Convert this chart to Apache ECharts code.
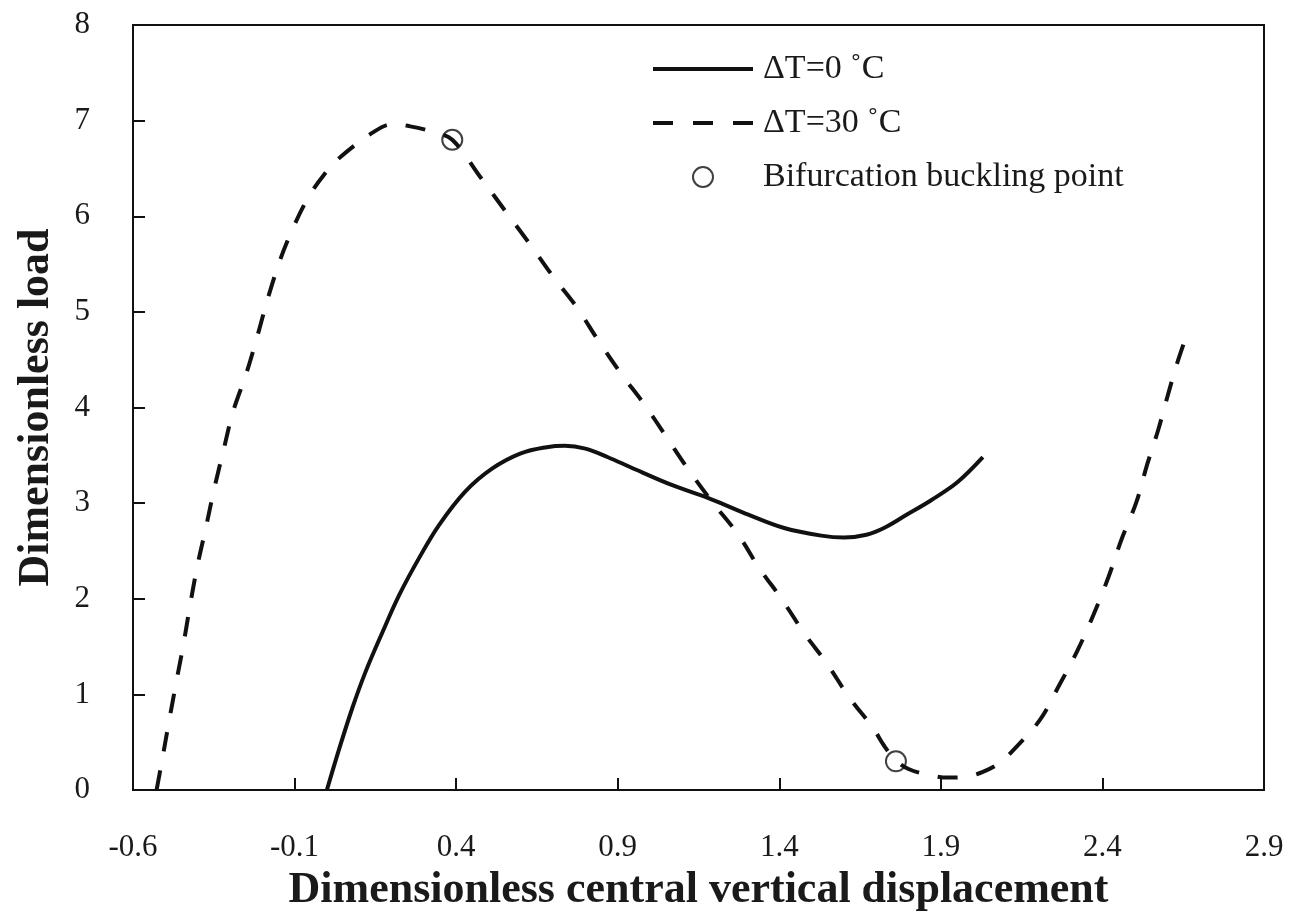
<!DOCTYPE html>
<html>
<head>
<meta charset="utf-8">
<title>Dimensionless load vs central vertical displacement</title>
<script src="https://cdn.jsdelivr.net/npm/echarts@6/dist/echarts.min.js"></script>
<style>
  html, body { margin: 0; padding: 0; background: #fff; }
  #chart { width: 1289px; height: 920px; }
</style>
</head>
<body>
<div id="chart"></div>
<script>
// Load–deflection path at ΔT = 0 °C
const dt0X = [0.0, 0.039, 0.079, 0.119, 0.172, 0.224, 0.286, 0.347, 0.428, 0.511, 0.600, 0.680, 0.736, 0.800, 0.870, 0.943, 1.067, 1.190, 1.304, 1.415, 1.530, 1.600, 1.670, 1.724, 1.790, 1.870, 1.952, 2.030];
const dt0Y = [0, 0.44, 0.86, 1.23, 1.65, 2.04, 2.43, 2.77, 3.12, 3.36, 3.52, 3.585, 3.60, 3.57, 3.48, 3.37, 3.19, 3.04, 2.88, 2.74, 2.66, 2.64, 2.67, 2.74, 2.87, 3.03, 3.22, 3.48];

// Load–deflection path at ΔT = 30 °C
const dt30X = [-0.527, -0.510, -0.489, -0.466, -0.443, -0.423, -0.401, -0.376, -0.348, -0.318, -0.291, -0.248, -0.214, -0.182, -0.143, -0.103, -0.057, -0.010, 0.042, 0.144, 0.200, 0.258, 0.330, 0.388, 0.477, 0.551, 0.628, 0.702, 0.773, 0.838, 0.909, 0.983, 1.051, 1.119, 1.193, 1.273, 1.338, 1.409, 1.477, 1.548, 1.616, 1.690, 1.725, 1.761, 1.800, 1.860, 1.920, 1.980, 2.030, 2.080, 2.125, 2.206, 2.267, 2.323, 2.372, 2.419, 2.459, 2.505, 2.539, 2.573, 2.600, 2.630, 2.660];
const dt30Y = [0, 0.31, 0.71, 1.13, 1.54, 1.94, 2.34, 2.72, 3.16, 3.58, 3.95, 4.37, 4.76, 5.15, 5.56, 5.89, 6.20, 6.43, 6.62, 6.88, 6.96, 6.94, 6.88, 6.80, 6.40, 6.06, 5.71, 5.36, 5.05, 4.71, 4.36, 4.03, 3.69, 3.35, 3.01, 2.67, 2.32, 1.99, 1.64, 1.32, 0.97, 0.65, 0.46, 0.31, 0.22, 0.16, 0.13, 0.14, 0.19, 0.28, 0.42, 0.73, 1.10, 1.46, 1.83, 2.23, 2.62, 3.01, 3.41, 3.77, 4.10, 4.45, 4.75];

// Bifurcation buckling points
const bifX = [0.388, 1.761];
const bifY = [6.80, 0.30];

// Axis settings and labels
const xMin = -0.6, xMax = 2.9, xStep = 0.5;
const yMin = 0, yMax = 8, yStep = 1;
const seriesNames = ['ΔT=0 ˚C', 'ΔT=30 ˚C', 'Bifurcation buckling point'];
const xTitle = 'Dimensionless central vertical displacement';
const yTitle = 'Dimensionless load';

const pairs = (xs, ys) => xs.map((x, i) => [x, ys[i]]);

const serif = '"Liberation Serif", "Times New Roman", serif';
const ink = '#1a1a1a';

const chart = echarts.init(document.getElementById('chart'), null, { renderer: 'canvas' });

chart.setOption({
  backgroundColor: '#ffffff',
  animation: false,
  grid: {
    left: 133, right: 25, top: 25, bottom: 130,
    show: true, borderColor: '#111', borderWidth: 2,
    backgroundColor: 'transparent'
  },
  legend: {
    orient: 'vertical',
    left: 646, top: 47,
    itemWidth: 100, itemHeight: 20, itemGap: 20,
    // line entries show only their stroke, no marker in the middle
    data: [
      { name: seriesNames[0], itemStyle: { opacity: 0 }, lineStyle: { width: 4 } },
      { name: seriesNames[1], itemStyle: { opacity: 0 }, lineStyle: { width: 4, type: [20, 20] } },
      { name: seriesNames[2] }
    ],
    lineStyle: { width: 4 },
    textStyle: { fontFamily: serif, fontSize: 34, color: ink, padding: [0, 0, 0, 5] },
    selectedMode: false
  },
  xAxis: {
    type: 'value',
    min: xMin, max: xMax, interval: xStep,
    name: xTitle,
    nameLocation: 'middle',
    nameGap: 79,
    nameTextStyle: { fontFamily: serif, fontSize: 44, fontWeight: 'bold', color: ink },
    axisLine: { show: true, onZero: false, lineStyle: { color: '#111', width: 2 } },
    axisTick: { show: true, inside: true, length: 12, lineStyle: { color: '#111', width: 2 } },
    axisLabel: {
      margin: 42,
      fontFamily: serif, fontSize: 31, color: ink,
      formatter: v => v.toFixed(1)
    },
    splitLine: { show: false }
  },
  yAxis: {
    type: 'value',
    min: yMin, max: yMax, interval: yStep,
    name: yTitle,
    nameLocation: 'middle',
    nameGap: 74,
    nameTextStyle: { fontFamily: serif, fontSize: 44, fontWeight: 'bold', color: ink },
    axisLine: { show: true, onZero: false, lineStyle: { color: '#111', width: 2 } },
    axisTick: { show: true, inside: true, length: 12, lineStyle: { color: '#111', width: 2 } },
    axisLabel: {
      margin: 43,
      fontFamily: serif, fontSize: 31, color: ink,
      formatter: v => String(Math.round(v))
    },
    splitLine: { show: false }
  },
  series: [
    {
      name: seriesNames[0],
      type: 'line',
      data: pairs(dt0X, dt0Y),
      smooth: 0.35,
      symbol: 'none',
      showSymbol: false,
      lineStyle: { color: '#111', width: 4, type: 'solid' },
      itemStyle: { color: '#111' },
      z: 2
    },
    {
      name: seriesNames[1],
      type: 'line',
      data: pairs(dt30X, dt30Y),
      smooth: 0.35,
      symbol: 'none',
      showSymbol: false,
      lineStyle: { color: '#111', width: 4, type: [20, 19] },
      itemStyle: { color: '#111' },
      z: 2
    },
    {
      name: seriesNames[2],
      type: 'scatter',
      data: pairs(bifX, bifY),
      symbol: 'circle',
      symbolSize: 20,
      itemStyle: { color: 'rgba(0,0,0,0)', borderColor: '#111', borderWidth: 2 },
      z: 3
    }
  ]
});
</script>
</body>
</html>
